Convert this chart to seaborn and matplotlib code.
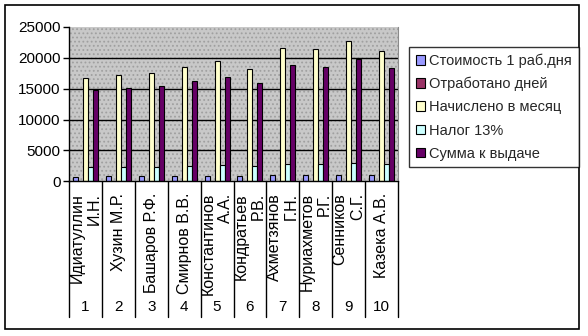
import numpy as np
import pandas as pd
import matplotlib
matplotlib.use("Agg")
import matplotlib.pyplot as plt
import matplotlib.transforms as mtransforms
from matplotlib.patches import Patch, Rectangle
import seaborn as sns

# --- data -------------------------------------------------------------
numbers = ["1", "2", "3", "4", "5", "6", "7", "8", "9", "10"]
names = ["Идиатуллин\nИ.Н.", "Хузин М.Р.", "Башаров Р.Ф.", "Смирнов В.В.",
         "Константинов\nА.А.", "Кондратьев\nР.В.", "Ахметзянов\nГ.Н.",
         "Нуриахметов\nР.Г.", "Сенников\nС.Г.", "Казека А.В."]
series = ["Стоимость 1 раб.дня", "Отработано дней", "Начислено в месяц",
          "Налог 13%", "Сумма к выдаче"]
cost_per_day = [760, 800, 820, 860, 900, 840, 1000, 990, 1050, 980]
days_worked = [22, 22, 22, 22, 22, 22, 22, 22, 22, 22]
accrued = [16720, 17200, 17580, 18500, 19480, 18180, 21590, 21430, 22730, 21100]
tax = [2370, 2370, 2370, 2540, 2650, 2480, 2800, 2800, 2970, 2800]
net_pay = [14820, 15100, 15470, 16280, 16880, 15900, 18830, 18500, 19850, 18310]
yticks = [0, 5000, 10000, 15000, 20000, 25000]

colors = ["#9999FF", "#993366", "#FFFFCC", "#CCFFFF", "#660066"]

values = [cost_per_day, days_worked, accrued, tax, net_pay]
df = pd.DataFrame({
    "num": np.tile(numbers, len(series)),
    "series": np.repeat(series, len(numbers)),
    "value": np.concatenate(values),
})

# --- figure -----------------------------------------------------------
sns.set_style("white")
plt.rcParams["font.family"] = ["Liberation Sans", "DejaVu Sans"]
plt.rcParams["hatch.color"] = "#9a9a9a"
plt.rcParams["hatch.linewidth"] = 0.8

W, H = 588, 336
fig = plt.figure(figsize=(W / 100, H / 100), dpi=100)
ax_left, ax_right, ax_top, ax_bot = 69, 398, 27, 181.3
ax = fig.add_axes([ax_left / W, 1 - ax_bot / H,
                   (ax_right - ax_left) / W, (ax_bot - ax_top) / H])

# dotted grey plot area
ax.set_facecolor("#c8c8c8")
ax.add_patch(Rectangle((0, 0), 1, 1, transform=ax.transAxes,
                       facecolor="#c8c8c8", edgecolor="#a0a0a0", lw=0,
                       hatch="....", zorder=0))

sns.barplot(data=df, x="num", y="value", hue="series", order=numbers,
            hue_order=series, palette=colors, width=0.76, gap=0,
            edgecolor="black", linewidth=0.8, saturation=1,
            legend=False, ax=ax, zorder=3)

ax.set_xlim(-0.5, len(numbers) - 0.5)
ax.set_ylim(0, 25000)
ax.set_yticks(yticks)
ax.set_yticklabels([str(v) for v in yticks], fontsize=11)
ax.tick_params(axis="y", direction="out", length=4, width=1, pad=2,
               left=True, colors="black")
ax.set_xticks([])
ax.set_xlabel("")
ax.set_ylabel("")
for v in yticks[1:-1]:
    ax.axhline(v, color="black", lw=1, zorder=2)

ax.spines["top"].set_visible(False)
ax.spines["right"].set_color("#8a8a8a")
ax.spines["left"].set_color("black")
ax.spines["bottom"].set_color("black")
ax.spines["left"].set_linewidth(1)
ax.spines["bottom"].set_linewidth(1)
ax.spines["bottom"].set_zorder(5)

# two-level category axis below the plot
span = ax_bot - ax_top
to_ax = lambda ypx: (ax_bot - ypx) / span
trans = mtransforms.blended_transform_factory(ax.transData, ax.transAxes)
for i in range(len(numbers) + 1):
    ax.plot([i - 0.5, i - 0.5], [0, to_ax(317)], transform=trans,
            color="black", lw=1, clip_on=False)
for i, (nm, num) in enumerate(zip(names, numbers)):
    ax.text(i, to_ax(193), nm, transform=trans, rotation=90, ha="center",
            va="top", multialignment="right", fontsize=11.5,
            linespacing=1.2, color="black")
    ax.text(i, to_ax(307), num, transform=trans, ha="center",
            va="center", fontsize=11, color="black")

# legend
handles = [Patch(facecolor=c, edgecolor="black", linewidth=0.8) for c in colors]
leg = fig.legend(handles, series, loc="upper left",
                 bbox_to_anchor=(409 / W, 1 - 47 / H),
                 bbox_transform=fig.transFigure, frameon=True, fancybox=False,
                 edgecolor="black", fontsize=10.5, handlelength=0.65,
                 handleheight=0.65, handletextpad=0.3, labelspacing=0.62,
                 borderpad=0.45, borderaxespad=0)
leg.get_frame().set_linewidth(1)

# outer chart border
fig.patches.append(Rectangle((5 / W, 1 - 329 / H), 574 / W, 324 / H,
                             transform=fig.transFigure, fill=False,
                             edgecolor="black", lw=1.2))

fig.savefig("out.png", dpi=100, facecolor="white")
